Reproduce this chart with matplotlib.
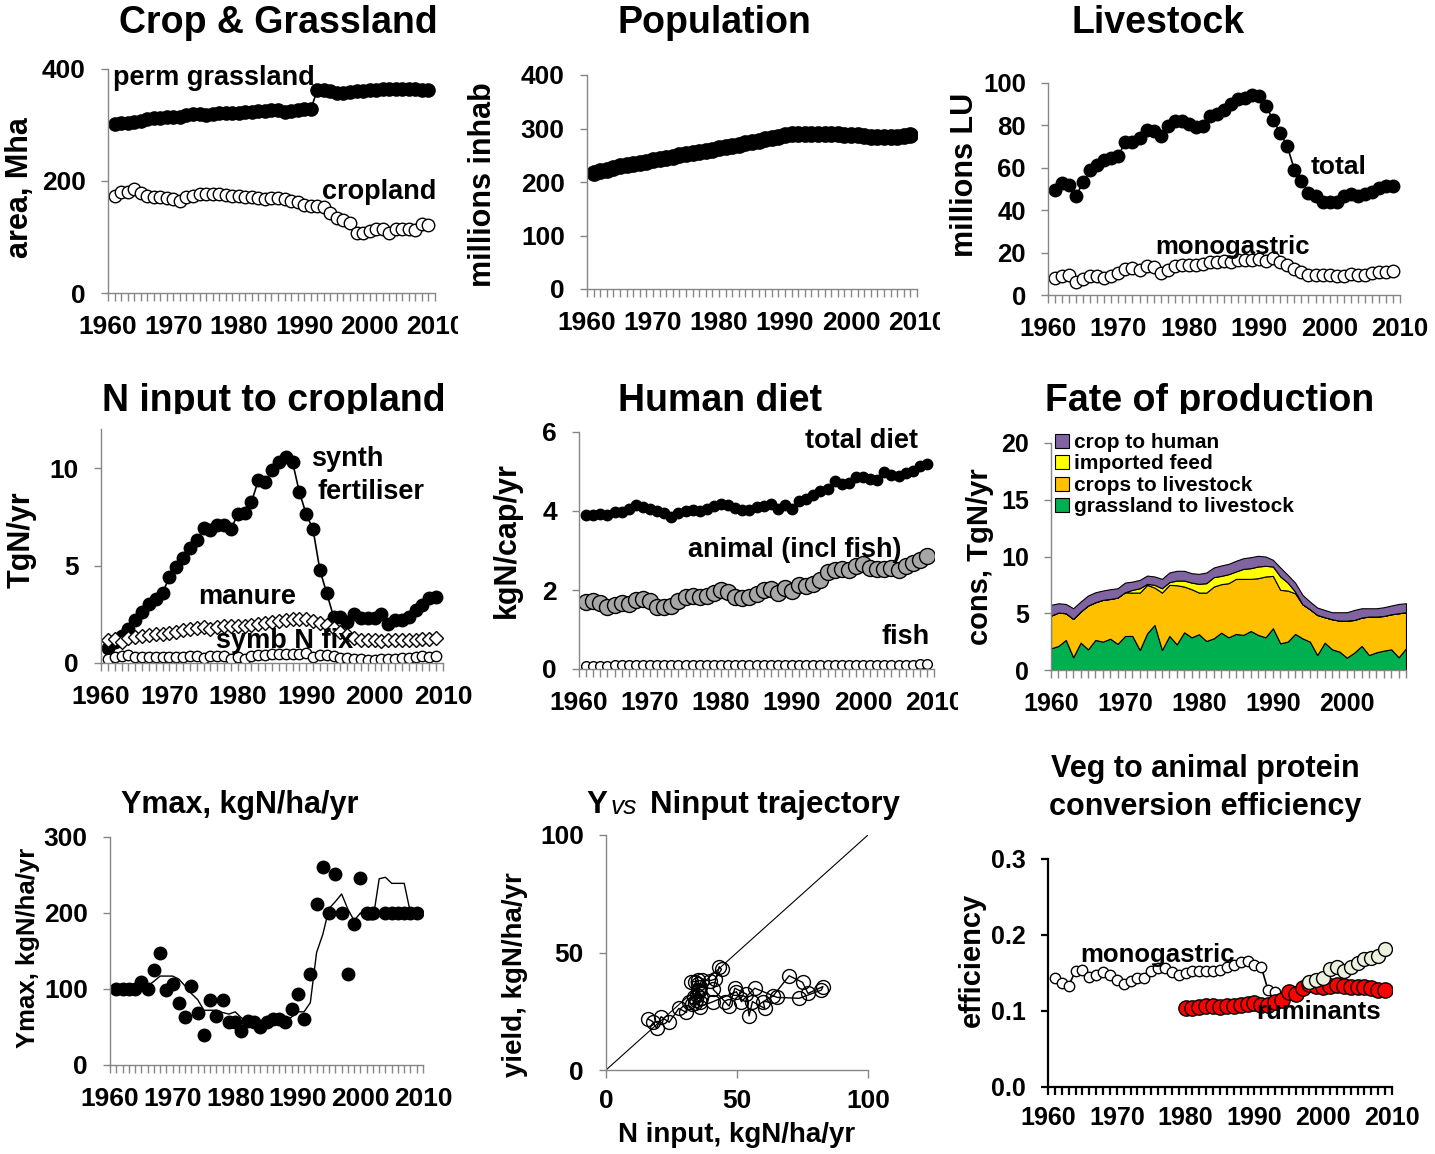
import matplotlib
matplotlib.use('Agg')
import matplotlib.pyplot as plt
from matplotlib.patches import Patch
from matplotlib.ticker import MultipleLocator
from matplotlib.transforms import Bbox, TransformedBbox

plt.rcParams['font.family'] = ['Liberation Sans', 'DejaVu Sans']
plt.rcParams['font.weight'] = 'bold'

W, H = 1435, 1154

# ---- data ----
years = list(range(1961, 2010))

grassland = [302, 303, 304, 306, 308, 310, 312, 313, 314, 315,
             315, 317, 319, 320, 318, 320, 321, 321, 322, 322,
             323, 324, 325, 325, 326, 326, 324, 325, 327, 328,
             328, 362, 362, 360, 357, 358, 359, 360, 361, 362,
             363, 364, 364, 364, 364, 364, 364, 363, 363]
cropland = [174, 181, 181, 185, 178, 174, 172, 171, 170, 168,
            165, 171, 174, 176, 177, 177, 176, 175, 174, 173,
            172, 171, 169, 168, 170, 169, 167, 165, 162, 158,
            156, 156, 153, 143, 134, 130, 125, 107, 107, 110,
            114, 115, 107, 115, 115, 115, 113, 124, 121]

population = [217, 220, 223, 226, 229, 231, 234, 236, 238, 241,
              243, 245, 247, 250, 252, 254, 256, 258, 260, 263,
              265, 267, 270, 272, 275, 277, 280, 283, 285, 287,
              289, 290, 290, 290, 290, 290, 289, 289, 288, 287,
              287, 286, 285, 285, 285, 285, 285, 286, 287]

livestock_total = [49.6, 52.8, 52.1, 46.9, 53.2, 59.1, 61.4, 63.8, 64.6, 65.7,
                   72.4, 72.4, 74.0, 78.0, 77.2, 75.1, 79.8, 82.2, 81.9, 80.8,
                   79.2, 79.8, 84.6, 85.4, 87.4, 90.1, 92.4, 92.9, 94.5, 93.7,
                   89.0, 82.4, 76.4, 70.1, 59.1, 54.0, 48.3, 46.5, 44.1, 44.1,
                   44.1, 46.5, 47.7, 46.9, 47.7, 48.8, 50.4, 51.2, 51.5]
livestock_mono = [8.2, 9.0, 9.3, 6.0, 7.7, 9.0, 9.0, 8.2, 8.8, 10.6,
                  12.5, 12.8, 12.0, 13.5, 13.0, 10.2, 12.0, 13.8, 14.0, 14.0,
                  14.3, 14.8, 15.4, 15.8, 16.0, 15.8, 16.3, 16.5, 16.5, 16.8,
                  16.0, 17.3, 15.4, 14.0, 12.3, 11.0, 9.6, 9.4, 9.4, 9.4,
                  8.8, 9.0, 9.8, 9.5, 9.3, 10.2, 10.8, 10.8, 11.2]

synth_fert = [0.77, 1.1, 1.36, 1.74, 2.2, 2.64, 3.03, 3.3, 3.6, 4.4,
              4.9, 5.4, 5.9, 6.3, 6.9, 6.8, 7.07, 7.1, 6.87, 7.63,
              7.67, 8.26, 9.37, 9.28, 9.88, 10.3, 10.56, 10.3, 8.77, 7.63,
              6.85, 4.77, 3.58, 2.38, 2.38, 2.08, 2.52, 2.3, 2.3, 2.3,
              2.52, 2.0, 2.2, 2.2, 2.38, 2.73, 2.98, 3.32, 3.37]
manure = [1.16, 1.25, 1.1, 1.28, 1.35, 1.4, 1.45, 1.5, 1.5, 1.55,
          1.6, 1.68, 1.75, 1.8, 1.85, 1.75, 1.85, 1.9, 1.92, 1.9,
          1.88, 1.95, 2.0, 2.05, 2.1, 2.15, 2.2, 2.25, 2.28, 2.25,
          2.15, 2.05, 1.95, 1.8, 1.6, 1.45, 1.3, 1.2, 1.2, 1.2,
          1.15, 1.2, 1.2, 1.2, 1.2, 1.2, 1.25, 1.25, 1.3]
symb_fix = [0.2, 0.3, 0.35, 0.4, 0.3, 0.3, 0.3, 0.3, 0.32, 0.32,
            0.3, 0.3, 0.35, 0.35, 0.25, 0.38, 0.38, 0.35, 0.2, 0.3,
            0.2, 0.35, 0.4, 0.4, 0.45, 0.45, 0.48, 0.45, 0.45, 0.5,
            0.3, 0.4, 0.4, 0.35, 0.25, 0.25, 0.2, 0.2, 0.15, 0.15,
            0.2, 0.2, 0.2, 0.25, 0.25, 0.3, 0.35, 0.3, 0.35]

diet_total = [3.9, 3.9, 3.92, 3.9, 3.98, 3.98, 4.05, 4.15, 4.1, 4.05,
              4.0, 3.95, 3.85, 3.95, 4.0, 4.02, 4.0, 4.05, 4.12, 4.18,
              4.15, 4.08, 4.02, 4.02, 4.1, 4.12, 4.18, 4.05, 4.15, 4.05,
              4.25, 4.3, 4.4, 4.5, 4.55, 4.75, 4.68, 4.7, 4.85, 4.85,
              4.82, 4.78, 4.98, 4.9, 4.88, 4.95, 5.0, 5.15, 5.18]
diet_animal = [1.7, 1.72, 1.68, 1.58, 1.62, 1.68, 1.65, 1.75, 1.78, 1.72,
               1.58, 1.58, 1.6, 1.72, 1.82, 1.85, 1.82, 1.85, 1.92, 2.0,
               1.95, 1.82, 1.8, 1.82, 1.9, 2.0, 2.02, 1.92, 2.05, 1.98,
               2.12, 2.1, 2.15, 2.25, 2.45, 2.5, 2.52, 2.5, 2.6, 2.65,
               2.55, 2.52, 2.52, 2.55, 2.5, 2.62, 2.68, 2.75, 2.85]
diet_fish = [0.08, 0.08, 0.08, 0.08, 0.09, 0.09, 0.09, 0.1, 0.1, 0.1,
             0.1, 0.1, 0.11, 0.11, 0.11, 0.1, 0.1, 0.1, 0.1, 0.11,
             0.1, 0.1, 0.1, 0.1, 0.1, 0.1, 0.1, 0.1, 0.1, 0.09,
             0.09, 0.09, 0.09, 0.1, 0.1, 0.1, 0.1, 0.1, 0.1, 0.1,
             0.1, 0.1, 0.1, 0.1, 0.1, 0.11, 0.11, 0.12, 0.12]

fate_years = list(range(1960, 2009))
fate_grass = [1.91, 2.12, 2.65, 1.12, 2.41, 1.82, 2.65, 2.5, 2.76, 2.3,
              3.0, 3.0, 1.76, 3.24, 3.97, 1.76, 3.0, 2.26, 3.32, 2.88,
              3.15, 2.56, 2.79, 3.29, 2.88, 3.18, 3.09, 3.44, 3.09, 2.88,
              3.68, 2.35, 2.5, 3.18, 2.79, 2.5, 1.32, 2.41, 1.82, 1.62,
              1.09, 1.53, 2.12, 1.32, 1.56, 1.71, 1.82, 1.12, 1.91]
fate_crops = [2.88, 2.94, 2.35, 3.38, 2.74, 3.86, 3.32, 3.68, 3.5, 4.08,
              3.85, 3.82, 5.06, 4.26, 3.29, 5.06, 4.5, 5.21, 4.03, 4.24,
              3.67, 4.26, 4.56, 4.27, 4.77, 4.85, 4.94, 4.59, 5.0, 5.36,
              4.61, 4.71, 4.5, 3.58, 3.0, 2.85, 3.53, 2.24, 2.65, 2.73,
              3.26, 2.88, 2.5, 3.39, 3.15, 3.05, 3.09, 3.88, 3.18]
fate_imported = [0, 0, 0, 0, 0, 0, 0, 0, 0, 0,
                 0, 0.24, 0.38, 0.09, 0.24, 0.38, 0.24, 0.41, 0.53, 0.58,
                 0.77, 0.83, 0.83, 0.73, 0.79, 0.65, 0.88, 0.94, 1.03, 0.94,
                 0.83, 1.18, 0.7, 0.15, 0, 0, 0, 0, 0, 0,
                 0, 0, 0, 0, 0, 0, 0, 0, 0]
fate_human = [0.95, 0.82, 0.82, 0.94, 0.88, 0.88, 0.88, 0.82, 0.86, 0.82,
              0.85, 0.73, 0.74, 0.73, 0.74, 0.83, 0.85, 0.86, 0.86, 0.83,
              0.88, 0.94, 0.85, 0.92, 0.91, 0.94, 0.94, 0.97, 0.94, 0.82,
              0.59, 0.79, 0.68, 0.79, 0.83, 0.68, 0.65, 0.64, 0.62, 0.74,
              0.74, 0.88, 0.82, 0.73, 0.73, 0.77, 0.77, 0.82, 0.79]
fate_labels = ['grassland to livestock', 'crops to livestock', 'imported feed', 'crop to human']
fate_colors = ['#00B050', '#FFC000', '#FFFF00', '#8064A2']

ymax_points = [100, 100, 100, 100, 109, 100, 125, 148, 99, 106,
               81, 63, 104, 68, 39, 85, 65, 85, 57, 57,
               45, 58, 57, 50, 56, 60, 61, 57, 74, 93,
               61, 120, 212, 261, 200, 251, 200, 120, 185, 246,
               200, 200, float('nan'), 200, 200, 200, 200, 200, 200]
ymax_smooth = [100, 100, 100, 104, 104, 104, 110, 117, 117, 117,
               113, 104, 94, 86, 72, 72, 72, 69, 67, 70,
               62, 58, 58, 55, 56, 58, 62, 59, 63, 70,
               70, 82, 148, 172, 206, 215, 225, 205, 190, 200,
               191, 191, 245, 247, 239, 239, 239, 200, 200]

n_input = [16.1, 17.8, 19.3, 21.0, 24.1, 27.8, 30.7, 31.8, 33.5, 35.0,
           36.5, 39.6, 41.5, 44.1, 43.2, 40.9, 45.4, 47.0, 49.2, 53.6,
           54.6, 55.9, 60.6, 60.0, 63.8, 69.9, 75.0, 77.1, 82.8, 82.2,
           73.7, 65.3, 56.8, 51.7, 49.8, 40.9, 36.0, 34.0, 32.5, 33.9,
           35.2, 35.5, 34.5, 33.0, 35.8, 34.8, 36.2, 35.0, 36.0]
n_yield = [21.7, 20.6, 17.7, 22.7, 20.3, 26.2, 24.5, 29.1, 31.0, 34.0,
           38.3, 38.0, 38.6, 42.8, 44.0, 34.3, 29.1, 27.2, 34.8, 32.3,
           23.0, 29.1, 26.2, 29.1, 31.5, 40.1, 37.3, 32.6, 35.5, 34.0,
           30.5, 30.9, 34.8, 29.1, 33.3, 29.1, 27.0, 28.5, 37.6, 37.6,
           38.3, 33.5, 30.0, 28.0, 35.5, 32.0, 30.5, 36.5, 29.0]

eff_mono_years = list(range(1961, 1994))
eff_mono = [0.144, 0.137, 0.133, 0.153, 0.154, 0.145, 0.147, 0.151, 0.147, 0.141,
            0.135, 0.139, 0.144, 0.143, 0.152, 0.156, 0.156, 0.151, 0.147, 0.150,
            0.152, 0.152, 0.153, 0.153, 0.154, 0.158, 0.160, 0.164, 0.166, 0.161,
            0.158, 0.127, 0.125]
eff_mono2_years = list(range(1998, 2010))
eff_mono2 = [0.138, 0.1405, 0.144, 0.155, 0.158, 0.152, 0.158, 0.163, 0.168, 0.170, 0.173, 0.182]
eff_rum_years = list(range(1980, 2010))
eff_rum = [0.104, 0.104, 0.105, 0.106, 0.106, 0.105, 0.106, 0.107, 0.108, 0.109,
           0.110, 0.108, 0.108, 0.112, 0.115, 0.125, 0.123, 0.130, 0.135, 0.133,
           0.132, 0.133, 0.134, 0.133, 0.132, 0.132, 0.131, 0.130, 0.128, 0.127]

# ---- figure ----
fig = plt.figure(figsize=(W / 100, H / 100), dpi=100)
GRAY = '#868686'


def px_axes(left, top, right, bottom):
    return fig.add_axes([left / W, 1 - bottom / H, (right - left) / W, (bottom - top) / H])


def ftext(x, y, s, size, ha='left', va='center', **kw):
    return fig.text(x / W, 1 - y / H, s, fontsize=size, fontweight='bold', ha=ha, va=va, **kw)


def style(ax, xlim, ylim, yticks, xticks=None, minor=1, color=GRAY, lw=1.0, size=19, xpad=9.5):
    ax.set_xlim(*xlim)
    ax.set_ylim(*ylim)
    for s in ['top', 'right']:
        ax.spines[s].set_visible(False)
    for s in ['left', 'bottom']:
        ax.spines[s].set_color(color)
        ax.spines[s].set_linewidth(lw)
    ax.set_yticks(yticks)
    if xticks is None:
        xticks = list(range(1960, 2011, 10))
    ax.set_xticks(xticks)
    if minor:
        ax.xaxis.set_minor_locator(MultipleLocator(minor))
    ax.tick_params(axis='both', which='both', direction='out', color=color, width=lw, labelsize=size)
    ax.tick_params(axis='x', which='both', length=6, pad=xpad)
    ax.tick_params(axis='y', which='both', length=5, pad=11)
    ax.patch.set_alpha(0)


def clip_xlabels(ax, x_cut):
    box = TransformedBbox(Bbox.from_extents(0, 0, x_cut / W, 1), fig.transFigure)
    for lbl in ax.get_xticklabels():
        lbl.set_clip_on(True)
        lbl.set_clip_box(box)


def clip_below(txt, y_cut):
    txt.set_clip_on(True)
    txt.set_clip_box(TransformedBbox(Bbox.from_extents(0, 1 - y_cut / H, 1, 1), fig.transFigure))


line_kw = dict(color='black', lw=1.2)

# 1 Crop & Grassland
ax1 = px_axes(108, 69, 435, 293)
ax1.plot(years, grassland, marker='o', ms=9.5, mfc='black', mec='black', **line_kw)
ax1.plot(years, cropland, marker='o', ms=9, mfc='white', mec='black', mew=1, **line_kw)
style(ax1, (1960, 2010), (0, 400), [0, 200, 400])
clip_xlabels(ax1, 458)
ftext(278, 23, 'Crop & Grassland', 27, ha='center')
ftext(20, 188, 'area, Mha', 22, ha='center', rotation=90)
ftext(113, 78, 'perm grassland', 19.5)
ftext(322, 192, 'cropland', 19.5)

# 2 Population
ax2 = px_axes(587, 75, 917, 289)
ax2.plot(years, population, marker='o', ms=11, mfc='black', mec='black', **line_kw)
style(ax2, (1960, 2010), (0, 400), [0, 100, 200, 300, 400])
clip_xlabels(ax2, 940)
ftext(714, 23, 'Population', 27, ha='center')
ftext(483, 185, 'millions inhab', 22, ha='center', rotation=90)

# 3 Livestock
ax3 = px_axes(1048, 83, 1400, 295)
ax3.plot(years, livestock_total, marker='o', ms=9, mfc='black', mec='black', **line_kw)
ax3.plot(years, livestock_mono, marker='o', ms=9, mfc='white', mec='black', mew=1, **line_kw)
style(ax3, (1960, 2010), (0, 100), [0, 20, 40, 60, 80, 100], size=18.5)
ftext(1158, 23, 'Livestock', 27, ha='center')
ftext(965, 175, 'millions LU', 22, ha='center', rotation=90)
ftext(1311, 167, 'total', 19)
ftext(1155, 247, 'monogastric', 18.5)

# 4 N input to cropland
ax4 = px_axes(101, 429, 443, 663)
ax4.plot(years, synth_fert, marker='o', ms=9, mfc='black', mec='black', **line_kw)
ax4.plot(years, manure, marker='D', ms=7, mfc='white', mec='black', mew=1, **line_kw)
ax4.plot(years, symb_fix, marker='o', ms=7.5, mfc='white', mec='black', mew=1, **line_kw)
style(ax4, (1960, 2010), (0, 12), [0, 5, 10])
clip_below(ftext(274, 401, 'N input to cropland', 27, ha='center'), 414)
ftext(22, 540, 'TgN/yr', 22, ha='center', rotation=90)
ftext(311, 459, 'synth', 19.5)
ftext(318, 492, 'fertiliser', 19.5)
ftext(198, 597, 'manure', 19.5)
ftext(216, 641, 'symb N fix', 19.5)

# 5 Human diet
ax5 = px_axes(579, 432, 934, 669)
ax5.plot(years, diet_total, marker='o', ms=7.5, mfc='black', mec='black', **line_kw)
ax5.plot(years, diet_animal, marker='o', ms=11.5, mfc='#A6A6A6', mec='black', mew=1, **line_kw)
ax5.plot(years, diet_fish, marker='o', ms=7, mfc='white', mec='black', mew=1, **line_kw)
style(ax5, (1960, 2010), (0, 6), [0, 2, 4, 6])
clip_xlabels(ax5, 958)
ftext(720, 401, 'Human diet', 27, ha='center')
ftext(507, 540, 'kgN/cap/yr', 22, ha='center', rotation=90)
ftext(805, 441, 'total diet', 19.5)
ftext(688, 550, 'animal (incl fish)', 19.5)
ftext(881, 637, 'fish', 19.5)

# 6 Fate of production
ax6 = px_axes(1051, 443, 1406, 670)
ax6.stackplot(fate_years, fate_grass, fate_crops, fate_imported, fate_human,
              colors=fate_colors, edgecolor='black', linewidth=0.8)
style(ax6, (1960, 2008), (0, 20), [0, 5, 10, 15, 20],
      xticks=list(range(1960, 2001, 10)), size=18)
clip_below(ftext(1210, 401, 'Fate of production', 27, ha='center'), 414)
ftext(980, 557, 'cons, TgN/yr', 21, ha='center', rotation=90)
handles = [Patch(facecolor=c, edgecolor='black', linewidth=0.8) for c in fate_colors][::-1]
fig.legend(handles, fate_labels[::-1], loc='upper left', bbox_to_anchor=(1055 / W, 1 - 433 / H),
           frameon=False, fontsize=15, handlelength=0.65, handleheight=0.65,
           handletextpad=0.25, labelspacing=0.12, borderpad=0, borderaxespad=0)

# 7 Ymax
ax7 = px_axes(110, 837, 423, 1065)
ax7.plot(years, ymax_points, ls='none', marker='o', ms=9, mfc='black', mec='black')
ax7.plot(years, ymax_smooth, color='black', lw=1.0)
style(ax7, (1960, 2010), (0, 300), [0, 100, 200, 300])
ftext(240, 805, 'Ymax, kgN/ha/yr', 22, ha='center')
ftext(28, 948, 'Ymax, kgN/ha/yr', 18.5, ha='center', rotation=90)

# 8 Y vs Ninput
ax8 = px_axes(606, 835, 868, 1070)
ax8.axline((0, 0), slope=1, color='black', lw=0.8)
ax8.plot(n_input, n_yield, marker='o', ms=10, mfc='none', mec='black', mew=1, color='black', lw=1.0)
style(ax8, (0, 100), (0, 100), [0, 50, 100], xticks=[0, 50, 100], minor=0, xpad=8)
ftext(607, 805, 'Y', 22.5, ha='right')
ftext(611, 807, 'vs', 19, fontstyle='italic').set_fontweight('normal')
ftext(650, 805, 'Ninput trajectory', 22.5)
ftext(737, 1135, 'N input, kgN/ha/yr', 20, ha='center')
ftext(515, 975, 'yield, kgN/ha/yr', 20, ha='center', rotation=90)

# 9 conversion efficiency
ax9 = px_axes(1048, 859, 1392, 1087)
ax9.plot(eff_mono_years, eff_mono, marker='o', ms=7.5, mfc='white', mec='black', mew=1, **line_kw)
ax9.plot(eff_rum_years, eff_rum, marker='o', ms=11, mfc='#FF0000', mec='black', mew=1, **line_kw)
ax9.plot(eff_mono2_years, eff_mono2, marker='o', ms=10, mfc='#EBF1DE', mec='black', mew=1, **line_kw)
style(ax9, (1960, 2010), (0, 0.3), [0.0, 0.1, 0.2, 0.3], color='black', lw=1.6, size=18, xpad=8)
ax9.set_yticklabels(['0.0', '0.1', '0.2', '0.3'])
ftext(1205, 769, 'Veg to animal protein', 22, ha='center')
ftext(1205, 807, 'conversion efficiency', 22, ha='center')
ftext(972, 960, 'efficiency', 21, ha='center', rotation=90)
ftext(1080, 955, 'monogastric', 18.5)
ftext(1256, 1012, 'ruminants', 18.5)

fig.savefig('out.png', dpi=100)
